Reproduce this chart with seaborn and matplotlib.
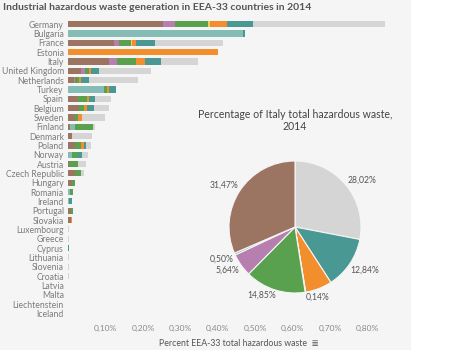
import numpy as np
import pandas as pd
import matplotlib
matplotlib.use("Agg")
import matplotlib.pyplot as plt
import seaborn as sns

sns.set_theme(style="white")
plt.rcParams['font.family'] = ['Lato', 'DejaVu Sans']

# ---------------- data (percent of EEA-33 total hazardous waste) ----------------
countries = ["Germany", "Bulgaria", "France", "Estonia", "Italy", "United Kingdom",
             "Netherlands", "Turkey", "Spain", "Belgium", "Sweden", "Finland", "Denmark",
             "Poland", "Norway", "Austria", "Czech Republic", "Hungary", "Romania",
             "Ireland", "Portugal", "Slovakia", "Luxembourg", "Greece", "Cyprus",
             "Lithuania", "Slovenia", "Croatia", "Latvia", "Malta", "Liechtenstein", "Iceland"]

seg_brown  = [0.253, 0, 0.123, 0, 0.109, 0.036, 0.015, 0, 0.027, 0.029, 0.020, 0.006, 0.012,
              0.018, 0, 0.004, 0.018, 0.012, 0, 0, 0.007, 0.008, 0, 0, 0, 0, 0, 0, 0, 0, 0, 0]
seg_lteal  = [0, 0.468, 0, 0, 0.0017, 0, 0, 0.095, 0, 0, 0, 0.012, 0,
              0, 0.010, 0, 0, 0, 0.006, 0.003, 0, 0, 0, 0, 0, 0, 0, 0, 0, 0, 0, 0]
seg_pink   = [0.034, 0, 0.013, 0, 0.0196, 0.009, 0.005, 0, 0, 0, 0, 0, 0,
              0, 0, 0, 0, 0, 0, 0, 0, 0, 0, 0, 0, 0, 0, 0, 0, 0, 0, 0]
seg_green  = [0.088, 0, 0.031, 0, 0.0515, 0.011, 0.009, 0.009, 0.024, 0.015, 0.006, 0.048, 0,
              0.018, 0.018, 0.023, 0.018, 0.006, 0.008, 0, 0.006, 0, 0, 0, 0, 0, 0, 0, 0, 0, 0, 0]
seg_yellow = [0.005, 0, 0.004, 0, 0.0005, 0, 0, 0, 0, 0, 0, 0, 0,
              0, 0, 0, 0, 0, 0, 0, 0, 0, 0, 0, 0, 0, 0, 0, 0, 0, 0, 0]
seg_orange = [0.045, 0, 0.011, 0.400, 0.0227, 0.006, 0.006, 0.005, 0.005, 0.006, 0.012, 0, 0,
              0.006, 0, 0, 0, 0, 0, 0, 0, 0.004, 0, 0, 0, 0, 0, 0, 0, 0, 0, 0]
seg_teal   = [0.068, 0.004, 0.051, 0, 0.0446, 0.020, 0.020, 0.020, 0.015, 0.020, 0, 0, 0,
              0.005, 0.010, 0, 0, 0, 0, 0.007, 0, 0, 0, 0, 0.004, 0, 0, 0, 0, 0, 0, 0]
seg_gray   = [0.352, 0, 0.182, 0, 0.0972, 0.140, 0.131, 0, 0.043, 0.040, 0.060, 0.006, 0.053,
              0.015, 0.015, 0.020, 0.006, 0, 0, 0, 0, 0, 0.004, 0.004, 0, 0.002, 0.004, 0.002,
              0.001, 0.0005, 0, 0]

segments = [seg_brown, seg_lteal, seg_pink, seg_green, seg_yellow, seg_orange, seg_teal, seg_gray]
seg_colors = ["#9c7562", "#86bcb6", "#b77fb0", "#59a14f", "#f1ce63", "#f28e2b", "#499894", "#d5d5d5"]

xticks = [0.1, 0.2, 0.3, 0.4, 0.5, 0.6, 0.7, 0.8]
xtick_labels = ["0,10%", "0,20%", "0,30%", "0,40%", "0,50%", "0,60%", "0,70%", "0,80%"]

pie_values = [28.02, 12.84, 6.54, 0.14, 14.85, 5.64, 0.50, 31.47]
pie_colors = ["#d5d5d5", "#499894", "#f28e2b", "#f1ce63", "#59a14f", "#b77fb0", "#86bcb6", "#9c7562"]
pie_labels = ["28,02%", "12,84%", "", "0,14%", "14,85%", "5,64%", "0,50%", "31,47%"]

# ---------------- figure ----------------
W, H = 468, 350
fig = plt.figure(figsize=(W / 100, H / 100), dpi=100)
fig.patch.set_facecolor("white")
bg = plt.Rectangle((0, 0), 410 / W, 1, transform=fig.transFigure, color="#f5f5f5", zorder=-10)
fig.patches.append(bg)

fig.text(3 / W, 1 - 8 / H, "Industrial hazardous waste generation in EEA-33 countries in 2014",
         fontsize=7.5, color="#555555", fontweight="bold", va="center", ha="left")

# bar axes
left, right = 68 / W, 410 / W
top, bottom = 1 - 19.5 / H, 1 - 318 / H
ax = fig.add_axes([left, bottom, right - left, top - bottom])
ax.set_facecolor("none")

df = pd.DataFrame({"country": countries})
cum = np.cumsum(np.array(segments), axis=0)
for i in range(len(segments) - 1, -1, -1):
    df["val"] = cum[i]
    sns.barplot(data=df, x="val", y="country", color=seg_colors[i], orient="h",
                width=0.66, ax=ax, saturation=1, linewidth=0, order=countries)

ax.set_xlim(0, (410 - 67.6) / 375)
ax.set_ylim(len(countries) - 0.5, -0.5)
ax.set_xticks(xticks)
ax.set_xticklabels(xtick_labels, fontsize=6, color="#8a8a8a")
ax.tick_params(axis="y", labelsize=6.2, labelcolor="#7c7c7c", pad=3, length=0)
ax.tick_params(axis="x", pad=5, length=0)
ax.set_ylabel("")
ax.set_xlabel("Percent EEA-33 total hazardous waste  \u2263", fontsize=6.3, color="#555555", labelpad=5)
for s in ax.spines.values():
    s.set_visible(False)

# pie axes
cx, cy, r = 295, 227, 66
pax = fig.add_axes([(cx - r) / W, 1 - (cy + r) / H, 2 * r / W, 2 * r / H])
pax.pie(pie_values, colors=pie_colors, startangle=90, counterclock=False,
        wedgeprops=dict(linewidth=0.8, edgecolor="#f5f5f5"))
pax.set_xlim(-1, 1)
pax.set_ylim(-1, 1)
pax.set_aspect("auto")
pax.axis("off")

label_pos = {"28,02%": (362, 180), "12,84%": (365, 270), "0,14%": (318, 297),
             "14,85%": (262, 295), "5,64%": (227, 270), "0,50%": (222, 259),
             "31,47%": (224, 185)}
for lab, (px, py) in label_pos.items():
    fig.text(px / W, 1 - py / H, lab, fontsize=6.2, color="#555555", ha="center", va="center")

fig.text(295 / W, 1 - 115 / H, "Percentage of Italy total hazardous waste,", fontsize=7.6,
         color="#444444", ha="center", va="center")
fig.text(295 / W, 1 - 127 / H, "2014", fontsize=7.6, color="#444444", ha="center", va="center")

fig.savefig("out.png", dpi=100, facecolor=fig.get_facecolor())
